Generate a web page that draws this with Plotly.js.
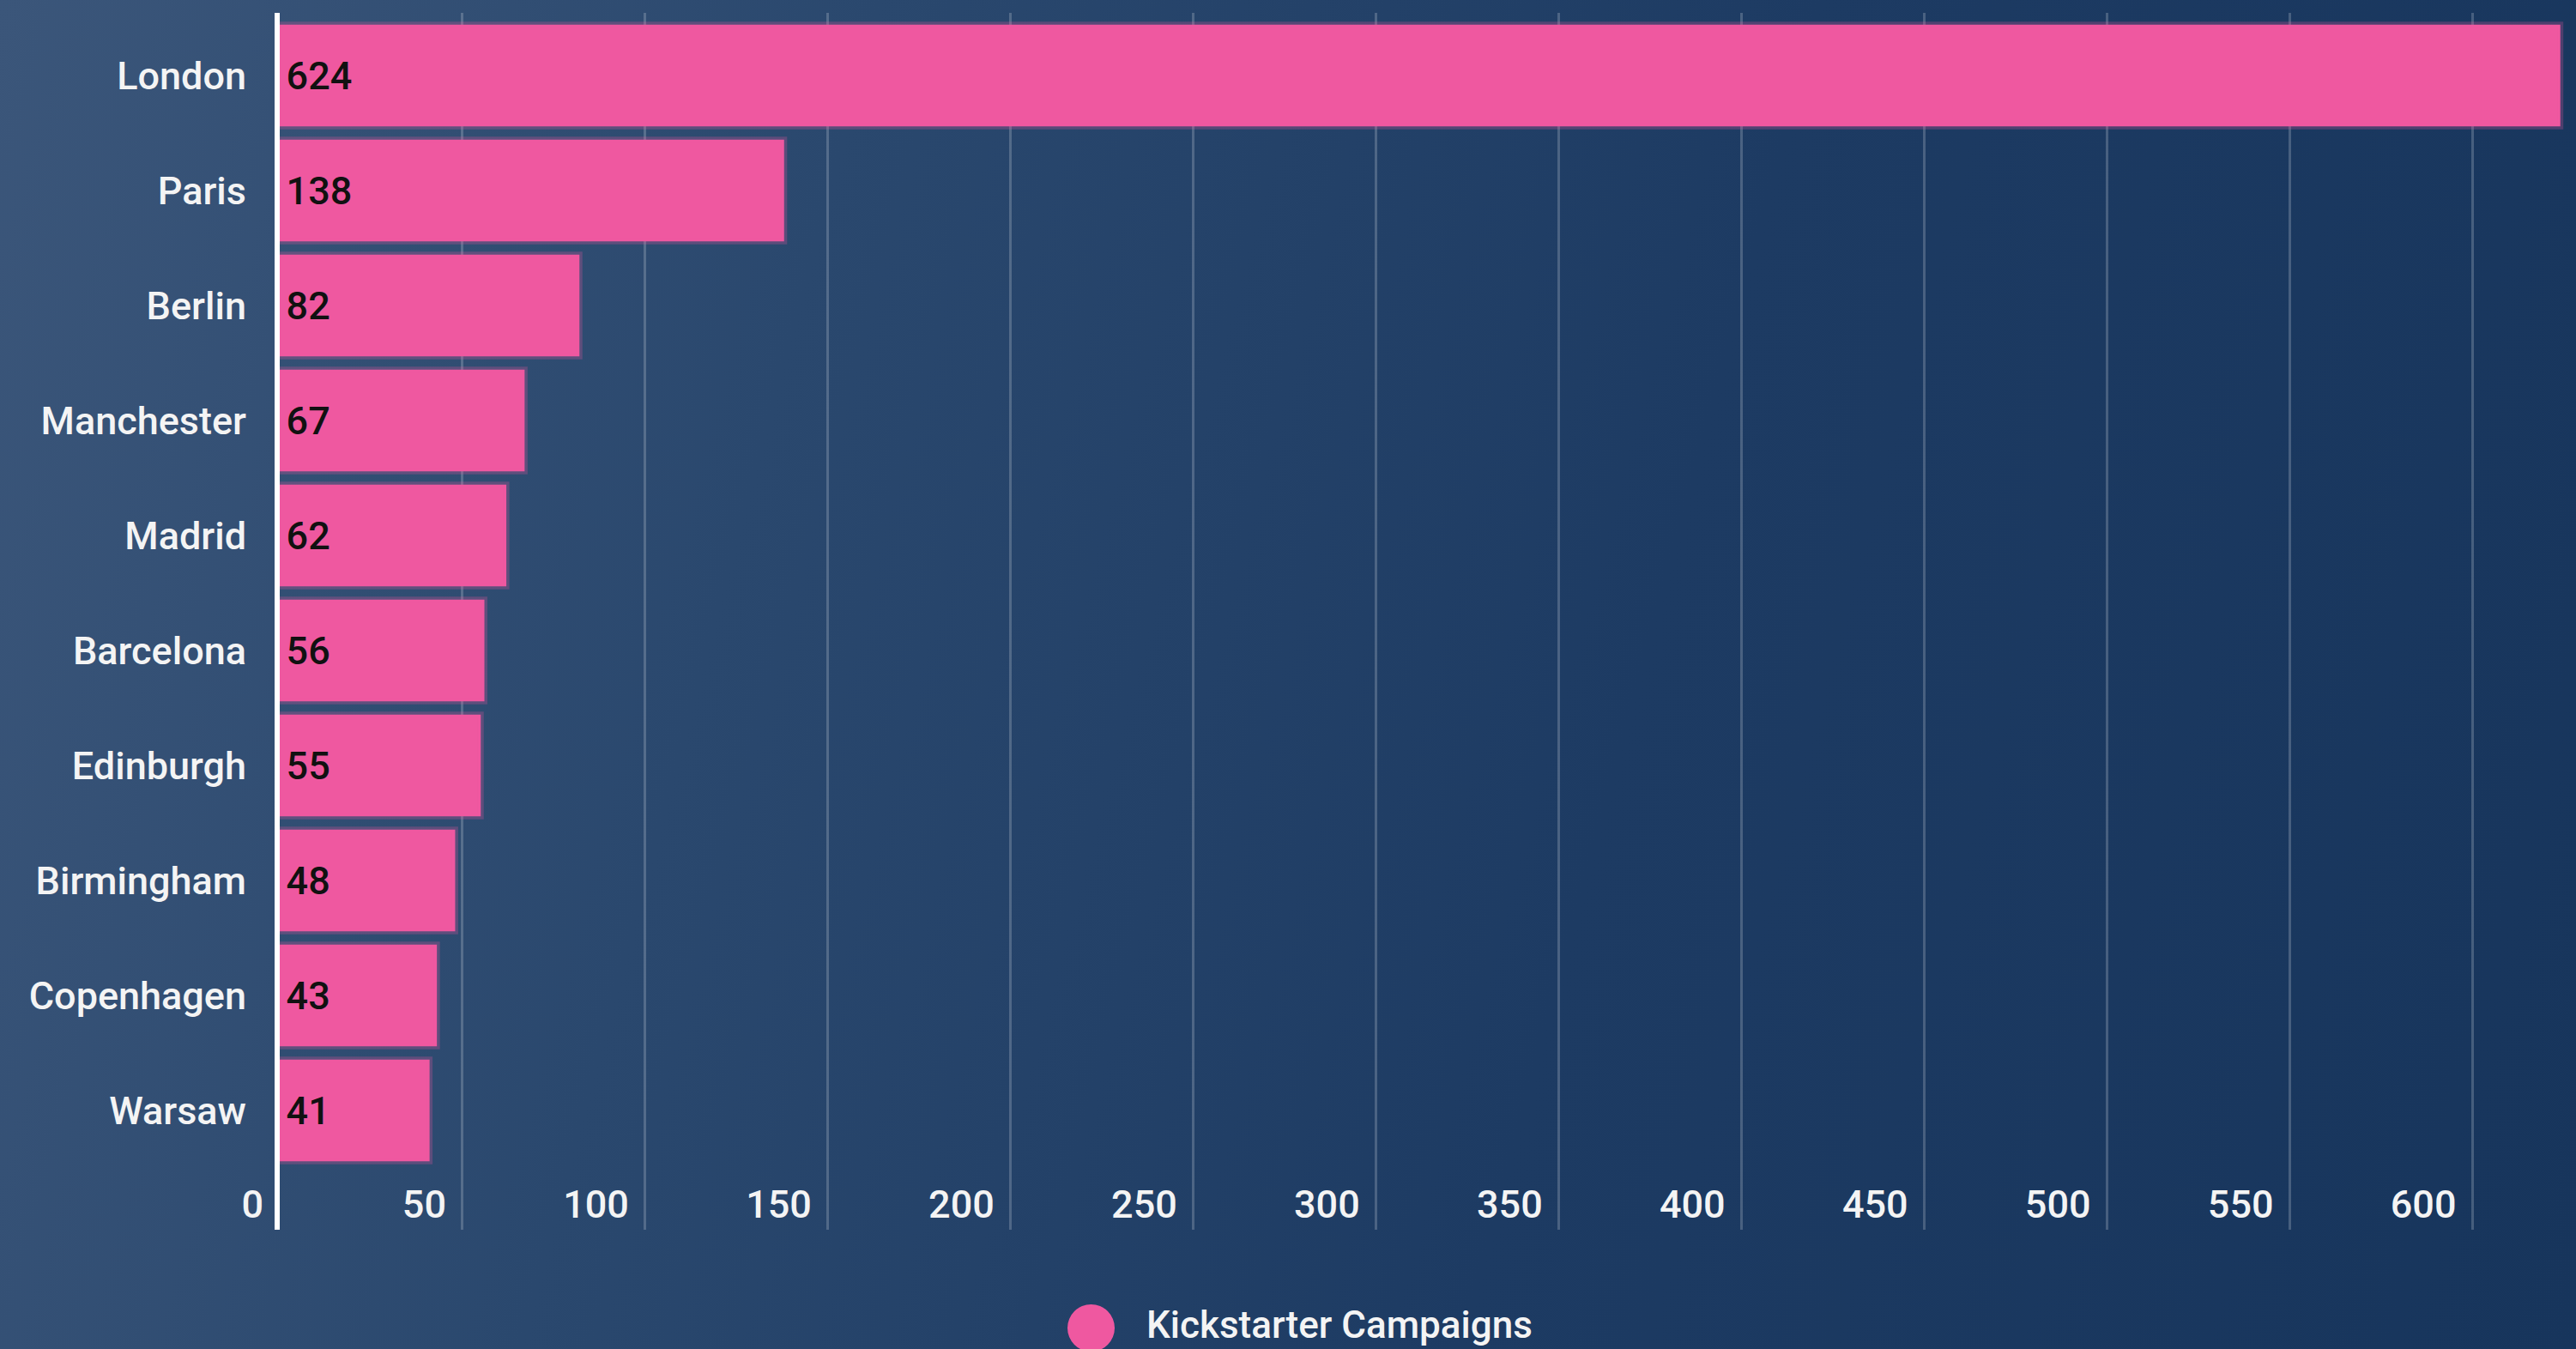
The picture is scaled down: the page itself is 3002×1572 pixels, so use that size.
<!DOCTYPE html>
<html>
<head>
<meta charset="utf-8">
<script src="https://cdn.plot.ly/plotly-3.0.1.min.js"></script>
<style>
  html, body { margin: 0; padding: 0; }
  body {
    width: 3002px; height: 1572px; overflow: hidden;
    background: linear-gradient(105deg, #3b567a 0%, #2a486e 30%, #1d3b63 62%, #17355c 100%);
  }
  #chart { width: 3002px; height: 1572px; }
</style>
</head>
<body>
<div id="chart"></div>
<script>
const cities = ["London", "Paris", "Berlin", "Manchester", "Madrid", "Barcelona", "Edinburgh", "Birmingham", "Copenhagen", "Warsaw"];
const campaigns = [624, 138, 82, 67, 62, 56, 55, 48, 43, 41];
const seriesName = "Kickstarter Campaigns";
const xTicks = [0, 50, 100, 150, 200, 250, 300, 350, 400, 450, 500, 550, 600];

const pink = "#ef58a0";
const fontFam = "Roboto, 'Noto Sans', sans-serif";

const trace = {
  type: "bar",
  orientation: "h",
  name: seriesName,
  y: cities,
  x: campaigns,
  width: 0.885,
  text: campaigns.map(v => "\u200a" + v),
  textposition: "inside",
  insidetextanchor: "start",
  constraintext: "none",
  textfont: { family: fontFam, size: 45, color: "#111111", weight: 500 },
  marker: { color: pink, line: { color: "rgba(239,88,160,0.25)", width: 7 } },
  hoverinfo: "skip",
  showlegend: false
};

const plotLeft = 326, plotRight = 2988, plotTop = 15, plotBottom = 1433;
const W = 3002, H = 1572;
const pw = plotRight - plotLeft, ph = plotBottom - plotTop;
const legY = (plotBottom - 1547.5) / ph;
const legTextY = (plotBottom - 1544) / ph;

const layout = {
  width: W, height: H,
  paper_bgcolor: "rgba(0,0,0,0)",
  plot_bgcolor: "rgba(0,0,0,0)",
  margin: { l: plotLeft, r: W - plotRight, t: plotTop, b: H - plotBottom, pad: 0 },
  showlegend: false,
  font: { family: fontFam, color: "#f4f4f4", size: 45, weight: 500 },
  xaxis: {
    range: [0, 625],
    tickmode: "array",
    tickvals: xTicks,
    ticktext: xTicks.map(String),
    showgrid: true,
    gridcolor: "rgba(255,255,255,0.2)",
    gridwidth: 3,
    zeroline: false,
    showline: false,
    ticks: "",
    ticklabelposition: "inside left",
    ticklabeloverflow: "allow",
    ticklabelstandoff: -1,
    ticklabelshift: -19,
    tickfont: { family: fontFam, size: 45, color: "#f4f4f4", weight: 500 },
    fixedrange: true
  },
  yaxis: {
    type: "category",
    categoryorder: "array",
    categoryarray: cities,
    range: [10.037, -0.545],
    showgrid: false,
    zeroline: false,
    showline: true,
    linecolor: "#ffffff",
    linewidth: 6,
    ticks: "",
    ticklabelstandoff: 24,
    tickfont: { family: fontFam, size: 45, color: "#f4f4f4", weight: 500 },
    fixedrange: true
  },
  shapes: [{
    type: "circle",
    xref: "paper", yref: "paper",
    xsizemode: "pixel", ysizemode: "pixel",
    xanchor: (1271.5 - plotLeft) / pw, yanchor: legY,
    x0: -27.5, x1: 27.5, y0: -27.5, y1: 27.5,
    fillcolor: pink, line: { width: 0 }
  }],
  annotations: [{
    xref: "paper", yref: "paper",
    x: (1334 - plotLeft) / pw, y: legTextY,
    xanchor: "left", yanchor: "middle",
    text: seriesName, showarrow: false,
    font: { family: fontFam, size: 44, color: "#f4f4f4", weight: 500 }
  }]
};

Plotly.newPlot("chart", [trace], layout, { displayModeBar: false, staticPlot: true });
</script>
</body>
</html>
